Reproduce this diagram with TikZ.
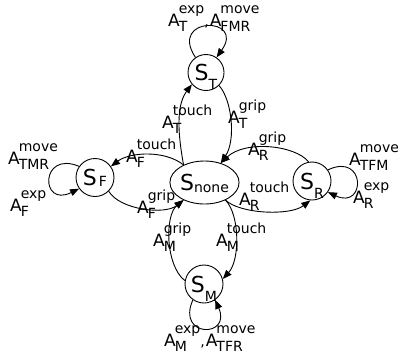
\documentclass[tikz,border=0pt]{standalone}
\usepackage{fontspec}
\setmainfont{DejaVu Sans}
\usetikzlibrary{arrows.meta,shapes.geometric}
\newcommand\AL[3]{{\fontsize{17}{17}\selectfont #1}\kern-1pt{\fontsize{14}{14}\selectfont\sbox0{#2}\sbox2{#3}\raisebox{12.5pt}{\usebox0}\kern-\wd0\raisebox{-5pt}{\usebox2}\ifdim\wd0>\wd2\kern\dimexpr\wd0-\wd2\relax\fi}}
\newcommand\SL[3]{{\fontsize{22}{22}\selectfont #1}{\fontsize{14}{14}\selectfont\raisebox{-#3}[0pt][0pt]{#2}}}
\newcommand\cm{{\fontsize{14}{14}\selectfont,\kern1pt}}
\tikzset{
  st/.style={circle, draw, line width=0.9pt, minimum size=#1, inner sep=0pt},
  edge/.style={draw, line width=0.9pt, -{Triangle[length=9pt,width=7pt]}},
  lab/.style={anchor=base west, inner sep=0pt}
}
\begin{document}
\begin{tikzpicture}[x=1pt,y=1pt]
\useasboundingbox (0,0) rectangle (398,-354);
% states
\node[st=36pt] (nT) at (206,-72.5) {\SL{S}{T}{9pt}};
\node[st=38pt] (nF) at (95,-177.5) {\SL{S}{\hspace{2pt}F}{1pt}};
\node[ellipse, draw, line width=0.9pt, minimum width=53pt, minimum height=43pt, inner sep=0pt] (nN) at (204.5,-182.5) {\SL{S}{none}{2pt}};
\node[st=38pt] (nR) at (312,-181) {\SL{S}{R}{9pt}};
\node[st=38pt] (nM) at (204,-284) {\SL{S}{M}{9pt}};
% edges
\draw[edge] (nN.140) .. controls (180,-145) and (174,-108) .. (nT.220);
\draw[edge] (nT.-45) .. controls (232,-100) and (236,-140) .. (nN.50);
\draw[edge] (nN.140) .. controls (165,-150) and (130,-152) .. (nF.35);
\draw[edge] (nF.-45) .. controls (120,-210) and (165,-215) .. (nN.220);
\draw[edge] (nR.100) .. controls (295,-145) and (245,-140) .. (nN.50);
\draw[edge] (nN.-40) .. controls (240,-214) and (290,-216) .. (nR.-95);
\draw[edge] (nM.170) .. controls (165,-265) and (165,-215) .. (nN.220);
\draw[edge] (nN.-40) .. controls (240,-215) and (240,-260) .. (nM.15);
% self loops
\draw[edge] (nT.125) .. controls (168,-16) and (246,-16) .. (nT.55);
\draw[edge] (nF.145) .. controls (40,-150) and (40,-208) .. (nF.215);
\draw[edge] (nR.35) .. controls (366,-152) and (366,-210) .. (nR.-35);
\draw[edge] (nM.235) .. controls (176,-338) and (232,-338) .. (nM.305);
% labels
\node[lab] (lT) at (168,-26) {\AL{A}{exp}{T}\cm\AL{A}{move}{FMR}};
\node[lab] (lTMR) at (8,-164) {\AL{A}{move}{TMR}};
\node[lab] (lFexp) at (10,-211) {\AL{A}{exp}{F}};
\node[lab] (lFt) at (126,-162) {\AL{A}{touch}{F}};
\node[lab] (lTt) at (162,-128) {\AL{A}{touch}{T}};
\node[lab] (lTg) at (228,-123) {\AL{A}{grip}{T}};
\node[lab] (lRg) at (248,-155) {\AL{A}{grip}{R}};
\node[lab] (lTFM) at (349,-165) {\AL{A}{move}{TFM}};
\node[lab] (lRexp) at (353,-203) {\AL{A}{exp}{R}};
\node[lab] (lRt) at (239,-205) {\AL{A}{touch}{R}};
\node[lab] (lFg) at (137,-213) {\AL{A}{grip}{F}};
\node[lab] (lMg) at (153,-246) {\AL{A}{grip}{M}};
\node[lab] (lMt) at (216,-246) {\AL{A}{touch}{M}};
\node[lab] (lM) at (164,-346) {\AL{A}{exp}{M}\cm\AL{A}{move}{TFR}};
\end{tikzpicture}
\end{document}
